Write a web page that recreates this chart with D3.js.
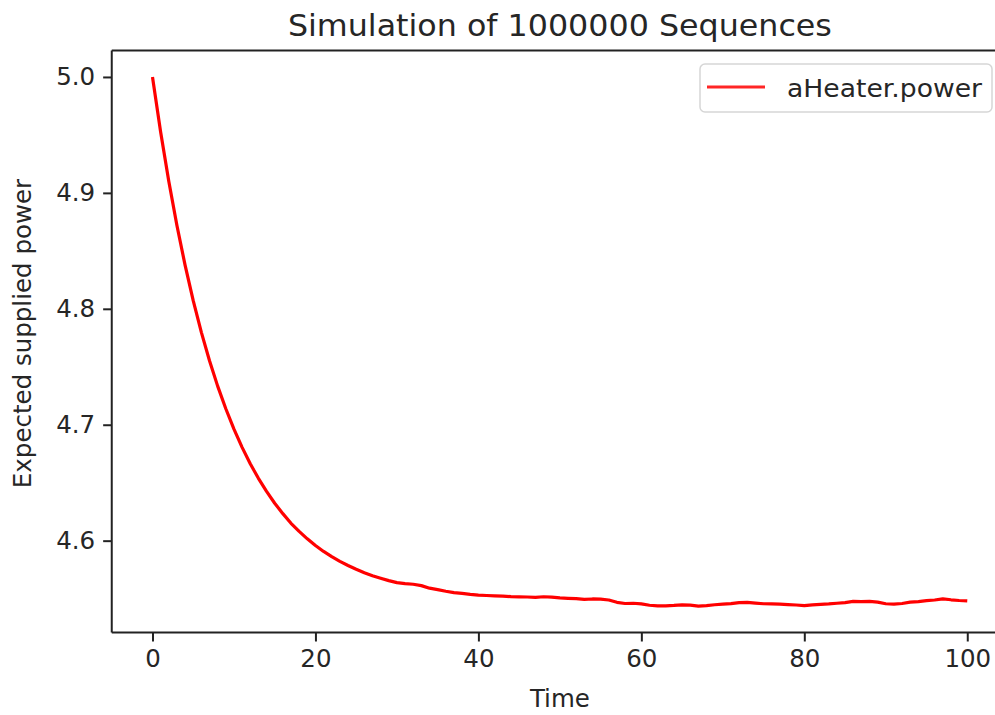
<!DOCTYPE html>
<html>
<head>
<meta charset="utf-8">
<script src="https://cdn.jsdelivr.net/npm/d3@7"></script>
<style>
  html, body { margin: 0; padding: 0; background: #fff; }
  svg { display: block; font-family: "DejaVu Sans", sans-serif; }
</style>
</head>
<body>
<svg id="chart" width="995" height="715"></svg>
<script>
// Expected supplied power of the heater over time (mean of simulated sequences)
const times = d3.range(0, 101);
const power = [
  5.0000, 4.9525, 4.9100, 4.8718, 4.8377, 4.8070, 4.7797, 4.7552, 4.7333, 4.7138,
  4.6962, 4.6805, 4.6663, 4.6538, 4.6425, 4.6323, 4.6233, 4.6150, 4.6080, 4.6016,
  4.5958, 4.5907, 4.5862, 4.5821, 4.5786, 4.5754, 4.5724, 4.5698, 4.5676, 4.5655,
  4.5638, 4.5630, 4.5624, 4.5612, 4.5590, 4.5578, 4.5564, 4.5552, 4.5545, 4.5537,
  4.5531, 4.5527, 4.5524, 4.5522, 4.5517, 4.5515, 4.5514, 4.5511, 4.5516, 4.5513,
  4.5506, 4.5503, 4.5500, 4.5493, 4.5497, 4.5495, 4.5488, 4.5468, 4.5458, 4.5460,
  4.5455, 4.5443, 4.5437, 4.5438, 4.5441, 4.5446, 4.5444, 4.5436, 4.5440, 4.5447,
  4.5452, 4.5457, 4.5466, 4.5468, 4.5462, 4.5456, 4.5454, 4.5452, 4.5448, 4.5445,
  4.5440, 4.5446, 4.5450, 4.5454, 4.5460, 4.5466, 4.5476, 4.5474, 4.5477, 4.5470,
  4.5456, 4.5452, 4.5458, 4.5470, 4.5474, 4.5482, 4.5488, 4.5498, 4.5490, 4.5484,
  4.5480
];
const xTicks = [0, 20, 40, 60, 80, 100];
const yTicks = [4.6, 4.7, 4.8, 4.9, 5.0];
const seriesName = "aHeater.power";
const titleText = "Simulation of 1000000 Sequences";
const xLabel = "Time";
const yLabel = "Expected supplied power";

const data = times.map((t, i) => ({ t, v: power[i] }));

const svg = d3.select("#chart");
const plot = { left: 111.75, right: 1008, top: 50.5, bottom: 632.5 };
const textColor = "#262626";

// 5% margins around the data extent on both axes
function padded(ext) {
  const m = (ext[1] - ext[0]) * 0.05;
  return [ext[0] - m, ext[1] + m];
}
const x = d3.scaleLinear().domain(padded(d3.extent(times))).range([plot.left, plot.right]);
const y = d3.scaleLinear().domain(padded(d3.extent(power))).range([plot.bottom, plot.top]);

// Curve
svg.append("path")
  .datum(data)
  .attr("fill", "none")
  .attr("stroke", "#ff0000")
  .attr("stroke-width", 3.2)
  .attr("stroke-linejoin", "round")
  .attr("stroke-linecap", "butt")
  .attr("d", d3.line().x(d => x(d.t)).y(d => y(d.v)));

// Axes
const xAxis = svg.append("g")
  .attr("transform", `translate(0,${plot.bottom})`)
  .call(d3.axisBottom(x).tickValues(xTicks).tickFormat(d3.format("d")).tickSize(9).tickPadding(8));
const yAxis = svg.append("g")
  .attr("transform", `translate(${plot.left},0)`)
  .call(d3.axisLeft(y).tickValues(yTicks).tickFormat(d3.format(".1f")).tickSize(8.6).tickPadding(8));

[xAxis, yAxis].forEach(g => {
  g.select(".domain").remove();
  g.selectAll(".tick line").attr("stroke", "#222").attr("stroke-width", 2);
  g.selectAll(".tick text")
    .attr("fill", textColor)
    .style("font-family", "'DejaVu Sans', sans-serif")
    .style("font-size", "24.5px");
});

// Spines (left, top, bottom; right edge lies beyond the page)
const spine = svg.append("g").attr("stroke", "#222").attr("stroke-width", 2).attr("fill", "none");
spine.append("line").attr("x1", plot.left).attr("x2", plot.left).attr("y1", plot.top).attr("y2", plot.bottom);
spine.append("line").attr("x1", plot.left).attr("x2", plot.right).attr("y1", plot.top).attr("y2", plot.top);
spine.append("line").attr("x1", plot.left).attr("x2", plot.right).attr("y1", plot.bottom).attr("y2", plot.bottom);
spine.append("line").attr("x1", plot.right).attr("x2", plot.right).attr("y1", plot.top).attr("y2", plot.bottom);

// Title and axis labels
svg.append("text")
  .attr("x", (plot.left + plot.right) / 2)
  .attr("y", 36)
  .attr("text-anchor", "middle")
  .attr("fill", textColor)
  .style("font-size", "29.4px")
  .attr("textLength", 544)
  .attr("lengthAdjust", "spacingAndGlyphs")
  .text(titleText);

svg.append("text")
  .attr("x", (plot.left + plot.right) / 2 - 0)
  .attr("y", 707)
  .attr("text-anchor", "middle")
  .attr("fill", textColor)
  .style("font-size", "24.5px")
  .text(xLabel);

svg.append("text")
  .attr("transform", `translate(31,${(plot.top + plot.bottom) / 2 - 8}) rotate(-90)`)
  .attr("text-anchor", "middle")
  .attr("fill", textColor)
  .style("font-size", "24.5px")
  .text(yLabel);

// Legend
const legend = svg.append("g").attr("transform", "translate(700,64)");
legend.append("rect")
  .attr("width", 292).attr("height", 48)
  .attr("rx", 5).attr("ry", 5)
  .attr("fill", "#fff").attr("fill-opacity", 0.8)
  .attr("stroke", "#d6d6d6").attr("stroke-width", 1.5);
legend.append("line")
  .attr("x1", 7).attr("x2", 65).attr("y1", 23).attr("y2", 23)
  .attr("stroke", "#ff0000").attr("stroke-opacity", 0.85).attr("stroke-width", 3.2);
legend.append("text")
  .attr("x", 87).attr("y", 32.5)
  .attr("fill", textColor)
  .style("font-size", "24.5px")
  .attr("textLength", 195)
  .attr("lengthAdjust", "spacingAndGlyphs")
  .text(seriesName);
</script>
</body>
</html>
